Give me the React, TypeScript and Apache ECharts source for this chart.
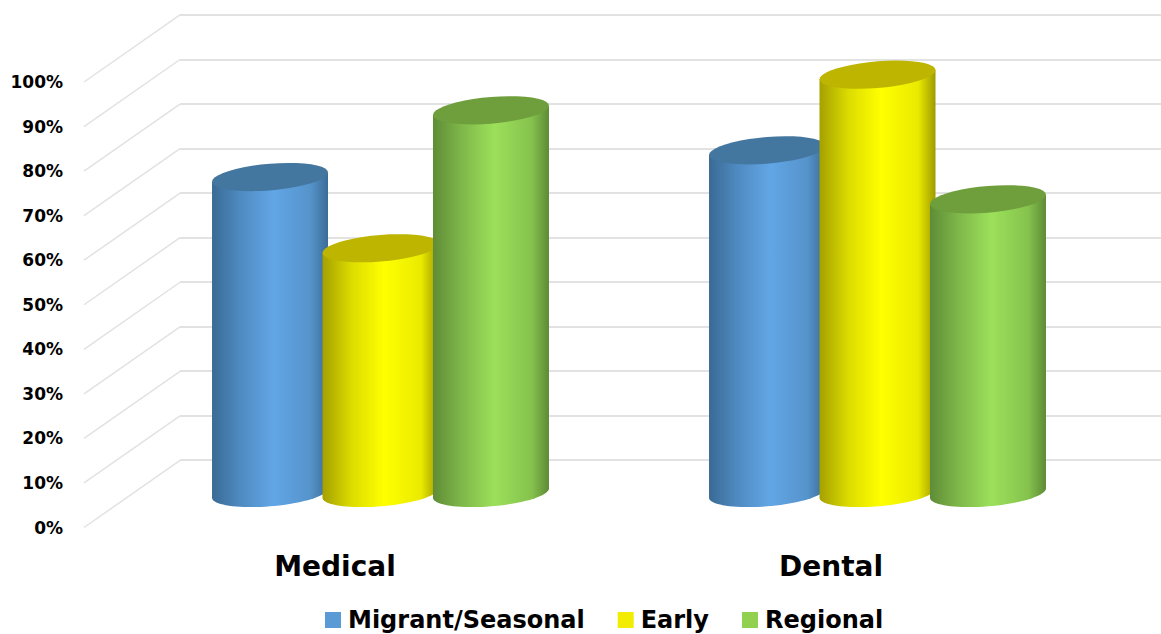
import React, { useEffect, useRef } from "react";
import * as echarts from "echarts";

const categories = ["Medical", "Dental"];
const seriesNames = ["Migrant/Seasonal", "Early", "Regional"];
const migrantValues = [71, 77];
const earlyValues = [55, 94];
const regionalValues = [86, 66];
const percentTicks = [0, 10, 20, 30, 40, 50, 60, 70, 80, 90, 100];

const FONT = "'DejaVu Sans', sans-serif";
const GRID_COLOR = "#e2e2e2";

// Shading per cylinder: legend swatch, lit side stops and the darker cap.
const swatchColors = ["#5B9BD5", "#F2EC00", "#92D050"];
const capColors = ["#44779F", "#BDB500", "#6F9F3C"];
const sideStops = [
  ["#3A6A94", "#4F8BC2", "#62A6E6", "#5593CB", "#3B6C96"],
  ["#A5A000", "#DCDC00", "#FFFF00", "#EAEA00", "#9E9A00"],
  ["#5F8C36", "#7FB84A", "#9CE05A", "#85C24D", "#5E8A36"],
];

const BAR_WIDTH_RATIO = 0.2334;
const BAR_STEP_RATIO = 0.2223;
const CAP_SHEAR = 0.08;
const CAP_DEPTH = 0.23;

function ellipsePoint(cx: number, cy: number, a: number, t: number) {
  return [
    cx + a * Math.cos(t),
    cy - a * CAP_SHEAR * Math.cos(t) + a * CAP_DEPTH * Math.sin(t),
  ];
}

function arc(cx: number, cy: number, a: number, from: number, to: number) {
  const pts: number[][] = [];
  const steps = 40;
  for (let i = 0; i <= steps; i++) {
    pts.push(ellipsePoint(cx, cy, a, from + ((to - from) * i) / steps));
  }
  return pts;
}

function cylinderRenderer(seriesIdx: number) {
  return (_params: any, api: any) => {
    const cat = api.value(0);
    const band = api.size([1, 0])[0];
    const a = (band * BAR_WIDTH_RATIO) / 2;
    const shift = (seriesIdx - 1) * band * BAR_STEP_RATIO;
    const top = api.coord([cat, api.value(1)]);
    const base = api.coord([cat, 0]);
    const cx = top[0] + shift;

    // Side: down the left edge, around the near half of the base, up the right edge.
    const side = [
      ellipsePoint(cx, top[1], a, Math.PI),
      ...arc(cx, base[1], a, Math.PI, 0),
      ellipsePoint(cx, top[1], a, 0),
    ];
    const s = sideStops[seriesIdx];
    return {
      type: "group",
      children: [
        {
          type: "polygon",
          shape: { points: side },
          style: {
            fill: new echarts.graphic.LinearGradient(0, 0, 1, 0, [
              { offset: 0, color: s[0] },
              { offset: 0.25, color: s[1] },
              { offset: 0.53, color: s[2] },
              { offset: 0.85, color: s[3] },
              { offset: 1, color: s[4] },
            ]),
          },
        },
        {
          type: "polygon",
          shape: { points: arc(cx, top[1], a, 0, Math.PI * 2) },
          style: { fill: capColors[seriesIdx] },
        },
      ],
    };
  };
}

// Receding floor-to-wall edges: from the front plane up to the back wall.
const WALL_DEPTH_VALUE = 15.05;
function wallEdgeRenderer(_params: any, api: any) {
  const v = api.value(0);
  const front = api.coord([0, v]);
  const back = api.coord([1, v + WALL_DEPTH_VALUE]);
  return {
    type: "line",
    shape: { x1: front[0], y1: front[1], x2: back[0], y2: back[1] },
    style: { stroke: GRID_COLOR, lineWidth: 1.5 },
  };
}

function cylinderSeries(name: string, idx: number, values: number[]) {
  return {
    type: "custom",
    name,
    xAxisIndex: 0,
    yAxisIndex: 0,
    z: 5 + idx,
    itemStyle: { color: swatchColors[idx] },
    encode: { x: 0, y: 1 },
    data: values.map((v, i) => [i, v]),
    renderItem: cylinderRenderer(idx),
  };
}

export default function App() {
  const ref = useRef<HTMLDivElement>(null);

  useEffect(() => {
    const chart = echarts.init(ref.current!, undefined, { renderer: "svg" });
    const hiddenY = { type: "value", min: 0, max: 100, interval: 10, show: false };
    chart.setOption({
      animation: false,
      backgroundColor: "#ffffff",
      grid: [
        { left: 132, right: 35, top: 48, bottom: 141 }, // mid-depth plane for the cylinders
        { left: 180, right: 0, top: 15, bottom: 174 }, // back wall
        { left: 84, right: 981, top: 82, bottom: 106.5 }, // front plane, value labels
        { left: 87, right: 82, top: 82, bottom: 106.5 }, // front plane, category labels
      ],
      xAxis: [
        { type: "category", gridIndex: 0, data: categories, show: false },
        { type: "value", gridIndex: 1, min: 0, max: 1, show: false },
        { type: "value", gridIndex: 2, min: 0, max: 1, show: false },
        {
          type: "category",
          gridIndex: 3,
          data: categories,
          axisLine: { show: false },
          axisTick: { show: false },
          axisLabel: {
            margin: 25,
            color: "#000000",
            fontFamily: FONT,
            fontWeight: "bold",
            fontSize: 28,
          },
        },
      ],
      yAxis: [
        { ...hiddenY, gridIndex: 0 },
        {
          type: "value",
          gridIndex: 1,
          min: 0,
          max: 100,
          interval: 10,
          axisLine: { show: false },
          axisTick: { show: false },
          axisLabel: { show: false },
          splitLine: { show: true, lineStyle: { color: GRID_COLOR, width: 2 } },
        },
        {
          type: "value",
          gridIndex: 2,
          min: 0,
          max: 100,
          interval: 10,
          axisLine: { show: false },
          axisTick: { show: false },
          splitLine: { show: false },
          axisLabel: {
            margin: 21,
            formatter: "{value}%",
            color: "#000000",
            fontFamily: FONT,
            fontWeight: "bold",
            fontSize: 17,
          },
        },
        { ...hiddenY, gridIndex: 3 },
      ],
      legend: {
        data: seriesNames,
        left: 320,
        top: 603,
        icon: "rect",
        itemWidth: 16,
        itemHeight: 16,
        itemGap: 33,
        textStyle: {
          color: "#000000",
          fontFamily: FONT,
          fontWeight: "bold",
          fontSize: 24,
          padding: [0, 0, 0, 2],
        },
      },
      series: [
        {
          type: "custom",
          name: "wall edges",
          xAxisIndex: 2,
          yAxisIndex: 2,
          z: 1,
          silent: true,
          data: percentTicks.map((t) => [t]),
          encode: { y: 0 },
          renderItem: wallEdgeRenderer,
        },
        cylinderSeries(seriesNames[0], 0, migrantValues),
        cylinderSeries(seriesNames[1], 1, earlyValues),
        cylinderSeries(seriesNames[2], 2, regionalValues),
      ],
    });
    return () => chart.dispose();
  }, []);

  return (
    <div
      ref={ref}
      style={{ position: "fixed", left: 0, top: 0, width: 1161, height: 634 }}
    />
  );
}
